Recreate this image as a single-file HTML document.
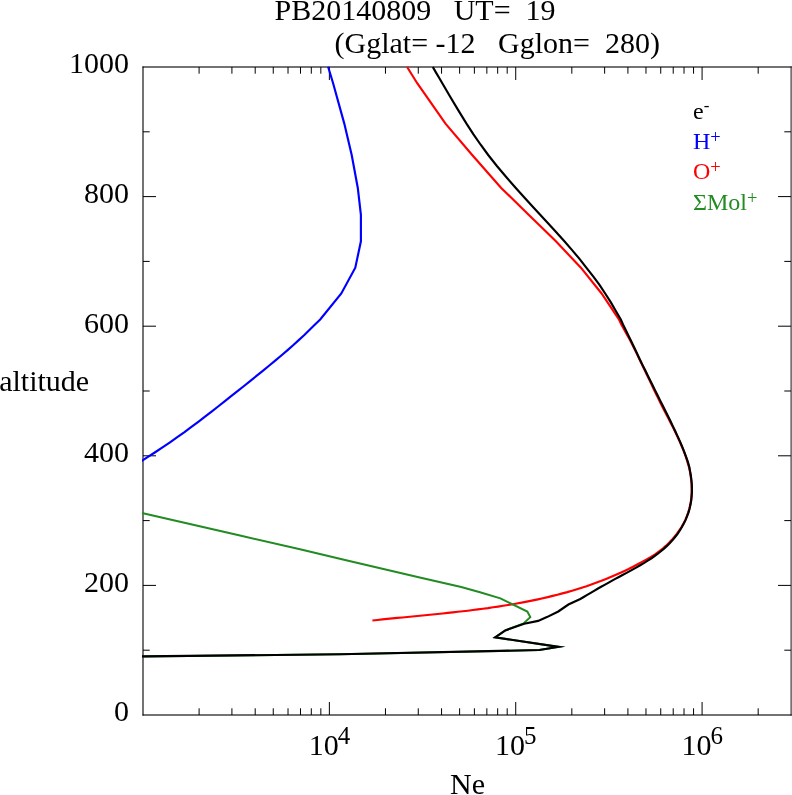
<!DOCTYPE html><html><head><meta charset="utf-8"><title>PB20140809</title>
<style>html,body{margin:0;padding:0;background:#fff}svg{display:block;will-change:transform}text{font-family:"Liberation Serif","DejaVu Serif",serif;}</style></head><body>
<svg width="792" height="795" viewBox="0 0 792 795">
<rect width="792" height="795" fill="#fff"/>
<defs><clipPath id="c"><rect x="142.0" y="66.0" width="650.0" height="650.0"/></clipPath></defs>
<g stroke="#000" stroke-opacity="0.55" stroke-width="2" fill="none"><path d="M143.0 66.5V715.5"/><path d="M142.5 715.0H791.8"/><path d="M791.3 715.5V66.5"/><path d="M791.8 67.0H142.5"/></g>
<path d="M143.0 650.20h6.7M791.0 650.20h-6.7M143.0 585.40h13M791.0 585.40h-13M143.0 520.60h6.7M791.0 520.60h-6.7M143.0 455.80h13M791.0 455.80h-13M143.0 391.00h6.7M791.0 391.00h-6.7M143.0 326.20h13M791.0 326.20h-13M143.0 261.40h6.7M791.0 261.40h-6.7M143.0 196.60h13M791.0 196.60h-13M143.0 131.80h6.7M791.0 131.80h-6.7M199.10 715.0v-6.7M199.10 67.0v6.7M231.92 715.0v-6.7M231.92 67.0v6.7M255.20 715.0v-6.7M255.20 67.0v6.7M273.26 715.0v-6.7M273.26 67.0v6.7M288.02 715.0v-6.7M288.02 67.0v6.7M300.49 715.0v-6.7M300.49 67.0v6.7M311.30 715.0v-6.7M311.30 67.0v6.7M320.83 715.0v-6.7M320.83 67.0v6.7M329.36 715.0v-13M329.36 67.0v13M385.46 715.0v-6.7M385.46 67.0v6.7M418.28 715.0v-6.7M418.28 67.0v6.7M441.56 715.0v-6.7M441.56 67.0v6.7M459.62 715.0v-6.7M459.62 67.0v6.7M474.38 715.0v-6.7M474.38 67.0v6.7M486.85 715.0v-6.7M486.85 67.0v6.7M497.66 715.0v-6.7M497.66 67.0v6.7M507.19 715.0v-6.7M507.19 67.0v6.7M515.72 715.0v-13M515.72 67.0v13M571.82 715.0v-6.7M571.82 67.0v6.7M604.64 715.0v-6.7M604.64 67.0v6.7M627.92 715.0v-6.7M627.92 67.0v6.7M645.98 715.0v-6.7M645.98 67.0v6.7M660.74 715.0v-6.7M660.74 67.0v6.7M673.22 715.0v-6.7M673.22 67.0v6.7M684.02 715.0v-6.7M684.02 67.0v6.7M693.56 715.0v-6.7M693.56 67.0v6.7M702.08 715.0v-13M702.08 67.0v13M758.18 715.0v-6.7M758.18 67.0v6.7" stroke="#000" stroke-width="1" fill="none"/>
<g clip-path="url(#c)" fill="none" stroke-linejoin="miter" stroke-miterlimit="10" stroke-linecap="butt">
<path d="M328.1 66.7 L333.1 83.2 L344.3 123.6 L351.7 155.0 L357.8 188.0 L360.9 214.9 L360.9 241.3 L355.3 267.7 L341.3 293.5 L320.2 319.4 L315.0 324.5 L309.9 329.6 L304.6 334.8 L299.0 339.9 L293.4 345.0 L287.6 350.1 L281.6 355.2 L275.5 360.4 L269.3 365.5 L263.1 370.6 L256.8 375.7 L250.4 380.8 L244.0 386.0 L237.5 391.1 L231.1 396.2 L224.6 401.3 L218.1 406.5 L211.6 411.6 L205.0 416.7 L198.3 421.8 L191.4 426.9 L184.5 432.1 L177.3 437.2 L170.0 442.3 L162.5 447.4 L154.8 452.5 L146.8 457.7 L138.6 462.8 L130.1 467.9" stroke="#0000ff" stroke-width="2.15"/>
<path d="M407.1 67.0 L417.2 83.2 L445.5 123.6 L472.2 155.0 L501.2 188.0 L528.9 214.9 L555.9 241.3 L580.9 267.7 L601.6 293.5 L618.9 319.4 L621.2 324.3 L624.0 329.2 L626.7 334.2 L629.4 339.1 L632.0 344.0 L634.5 348.9 L636.9 353.8 L639.2 358.8 L641.6 363.7 L643.9 368.6 L646.3 373.5 L648.6 378.4 L651.0 383.4 L653.3 388.3 L655.7 393.2 L658.1 398.1 L660.5 403.0 L663.0 408.0 L665.6 412.9 L668.1 417.8 L670.6 422.7 L673.1 427.6 L675.5 432.6 L677.9 437.5 L680.1 442.4 L682.2 447.3 L684.2 452.2 L686.0 457.2 L687.5 462.1 L688.9 467.0 L689.2 467.8 L690.0 471.9 L690.7 476.0 L691.2 480.1 L691.6 484.2 L691.7 488.4 L691.7 492.5 L691.4 496.6 L691.0 500.6 L690.3 504.6 L689.4 508.6 L688.3 512.4 L686.9 516.2 L685.4 519.9 L683.5 523.5 L681.5 527.0 L679.2 530.5 L676.8 533.8 L674.3 537.0 L671.6 540.1 L668.8 543.0 L665.8 545.9 L662.8 548.6 L655.4 554.1 L651.0 556.8 L646.6 559.4 L642.1 561.9 L637.6 564.3 L633.1 566.7 L628.6 569.0 L624.0 571.2 L619.4 573.3 L614.8 575.3 L610.1 577.3 L605.4 579.2 L600.7 581.1 L596.0 582.8 L591.3 584.5 L586.5 586.2 L581.7 587.7 L576.9 589.2 L572.1 590.7 L567.3 592.1 L562.4 593.4 L557.5 594.7 L552.7 595.9 L547.8 597.1 L542.8 598.3 L537.9 599.4 L533.0 600.4 L528.0 601.4 L523.0 602.4 L518.1 603.3 L513.1 604.2 L508.1 605.0 L503.1 605.8 L498.1 606.6 L493.1 607.3 L488.0 608.1 L483.0 608.7 L478.0 609.4 L472.9 610.0 L467.9 610.7 L462.8 611.3 L457.8 611.8 L452.7 612.4 L447.7 612.9 L442.6 613.5 L437.6 614.0 L432.6 614.5 L427.5 615.0 L422.5 615.5 L417.4 616.0 L412.4 616.5 L407.4 617.0 L402.4 617.5 L397.3 617.9 L392.3 618.4 L387.3 618.9 L382.4 619.4 L377.4 620.0 L372.4 620.5" stroke="#ff0000" stroke-width="2.15"/>
<path d="M130.0 510.2 L143.0 513.2 L240.0 535.5 L300.0 549.2 L346.1 560.2 L420.8 577.8 L461.2 587.0 L480.0 592.3 L500.4 598.4 L527.3 611.5 L530.3 617.1 L523.6 623.5 L505.3 630.4 L495.2 637.3 L558.6 646.9 L539.3 650.0 L499.6 650.9 L340.0 654.3 L143.0 656.4 L130.0 656.5" stroke="#228b22" stroke-width="2.0"/>
<path d="M432.8 67.0 L435.9 72.4 L439.1 77.8 L442.3 83.2 L450.2 96.7 L458.2 110.1 L466.5 123.6 L473.3 134.1 L480.5 144.5 L488.2 155.0 L496.9 166.0 L506.2 177.0 L515.8 188.0 L523.9 197.0 L532.1 205.9 L540.4 214.9 L548.5 223.7 L556.5 232.5 L564.4 241.3 L572.1 250.1 L579.5 258.9 L586.3 267.7 L593.2 276.3 L599.5 284.9 L605.2 293.5 L610.7 302.1 L615.7 310.8 L620.8 319.4 L623.0 324.5 L625.5 329.5 L628.0 334.6 L630.5 339.7 L632.9 344.8 L635.3 349.8 L637.7 354.9 L640.1 360.0 L642.6 365.1 L645.1 370.1 L647.6 375.2 L650.1 380.3 L652.6 385.3 L655.1 390.4 L657.7 395.5 L660.2 400.6 L662.7 405.6 L665.3 410.7 L667.8 415.8 L670.3 420.8 L672.7 425.9 L675.2 431.0 L677.5 436.1 L679.8 441.1 L682.0 446.2 L684.0 451.3 L685.9 456.4 L687.7 461.4 L689.2 466.5 L689.4 467.8 L690.2 471.9 L690.9 476.0 L691.4 480.1 L691.8 484.2 L691.9 488.4 L691.9 492.5 L691.6 496.6 L691.2 500.6 L690.5 504.6 L689.6 508.6 L688.5 512.4 L687.1 516.2 L685.6 519.9 L683.8 523.5 L681.9 527.0 L679.8 530.5 L677.6 533.8 L675.1 537.0 L672.6 540.1 L669.9 543.0 L667.0 545.9 L664.0 548.6 L660.9 551.2 L657.8 553.7 L654.5 556.1 L651.1 558.5 L647.7 560.7 L644.2 562.9 L640.6 565.0 L637.0 567.1 L633.4 569.1 L629.8 571.1 L626.1 573.1 L622.5 575.0 L618.9 577.0 L615.3 578.9 L611.7 580.9 L608.2 582.9 L604.6 584.9 L601.1 586.8 L597.6 588.8 L594.1 590.9 L590.7 592.9 L587.2 594.9 L583.7 597.0 L580.3 599.0 L568.4 604.5 L558.3 611.5 L546.9 617.1 L538.1 620.9 L524.2 623.8 L505.3 630.4 L495.2 637.3 L558.6 646.9 L539.3 650.0 L499.6 650.9 L340.0 654.3 L143.0 656.4 L130.0 656.5" stroke="#000000" stroke-width="2.15"/>
</g>
<g font-size="30" fill="#000">
<text x="274.5" y="19.5" xml:space="preserve">PB20140809   UT=  19</text>
<text x="334.5" y="53" xml:space="preserve">(Gglat= -12   Gglon=  280)</text>
<text x="129" y="721.3" text-anchor="end">0</text>
<text x="129" y="591.7" text-anchor="end">200</text>
<text x="129" y="462.1" text-anchor="end">400</text>
<text x="129" y="332.5" text-anchor="end">600</text>
<text x="129" y="202.9" text-anchor="end">800</text>
<text x="129" y="73.3" text-anchor="end">1000</text>
<text x="-0.8" y="390.7">altitude</text>
<text x="308.7" y="755.4">10<tspan font-size="25" dx="-1" dy="-11.3">4</tspan></text>
<text x="495.0" y="755.4">10<tspan font-size="25" dx="-1" dy="-11.3">5</tspan></text>
<text x="681.4" y="755.4">10<tspan font-size="25" dx="-1" dy="-11.3">6</tspan></text>
<text x="450" y="793.6">Ne</text>
</g>
<g font-size="24">
<text x="693" y="118.7" fill="#000">e<tspan font-size="17" dy="-7.4">-</tspan></text>
<text x="693" y="149" fill="#0000ff">H<tspan font-size="18.5" dy="-6.0">+</tspan></text>
<text x="693" y="179.4" fill="#ff0000">O<tspan font-size="18.5" dy="-6.0">+</tspan></text>
<text x="693" y="209.8" fill="#228b22">ΣMol<tspan font-size="18.5" dy="-6.0">+</tspan></text>
</g>
</svg></body></html>
